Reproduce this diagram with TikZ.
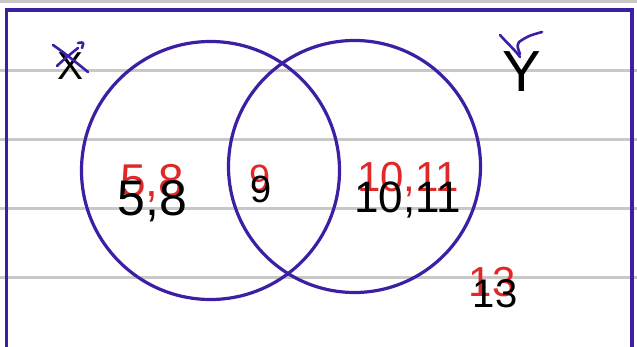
\documentclass[tikz,border=0pt]{standalone}
\usepackage{fontspec}
\setmainfont{Liberation Sans}
\definecolor{vennpurple}{RGB}{61,31,163}
\definecolor{inkred}{RGB}{225,40,40}
\definecolor{ruled}{RGB}{200,200,200}

\begin{document}
\begin{tikzpicture}[x=1pt, y=-1pt,
    rule/.style={ruled, line width=3pt},
    setcirc/.style={draw=vennpurple, line width=3.2pt, circle, inner sep=0pt},
    typed/.style={anchor=base, inner sep=0pt, text=black},
    handw/.style={anchor=base, inner sep=0pt, text=inkred},
    tick/.style={vennpurple, line width=2.6pt, line cap=round, line join=round}
]
\clip (0,0) rectangle (637,347);
\fill[white] (0,0) rectangle (637,347);
% ruled paper
\foreach \y in {1.5,70.5,140,209,278}
    \draw[rule] (0,\y) -- (637,\y);
% universal set
\draw[vennpurple, line width=3.5pt] (6.7,10) rectangle (632,360);
% the two sets
\node[setcirc, minimum size=258pt] (setX) at (210.5,170.5) {};
\node[setcirc, minimum size=252pt] (setY) at (354.5,166.5) {};

% handwritten answers
\node[handw, font=\fontsize{46}{46}\selectfont] (redA) at (152,197) {5,8};
\node[handw, font=\fontsize{38}{38}\selectfont] (redB) at (260,192) {9};
\node[handw, font=\fontsize{42}{42}\selectfont] (redC) at (408,192) {10,11};
\node[handw, font=\fontsize{42}{42}\selectfont] (redD) at (492,297) {13};

% typed answers
\node[typed, font=\fontsize{39}{39}\selectfont] (labX) at (71,80) {X};
\node[typed, font=\fontsize{58}{58}\selectfont] (labY) at (521.5,92) {Y};
\node[typed, font=\fontsize{50}{50}\selectfont] (onlyX) at (152.5,216) {5,8};
\node[typed, font=\fontsize{38}{38}\selectfont] (both) at (261,203) {9};
\node[typed, font=\fontsize{44}{44}\selectfont] (onlyY) at (407.5,213) {10,11};
\node[typed, font=\fontsize{40}{40}\selectfont] (outside) at (495,307) {13};

% marks on the set names
\draw[tick] (53,45) .. controls (66,54) and (78,64) .. (88,72);
\draw[tick] (78,43) .. controls (84,42) .. (82,48);
\draw[tick] (78,48) .. controls (68,56) and (62,61) .. (57,66);
\draw[tick] (500,35) .. controls (508,44) and (515,50) .. (520,57);
\draw[tick] (520,54) .. controls (517,46) .. (519,42) .. controls (528,36) .. (542,32);
\end{tikzpicture}
\end{document}
